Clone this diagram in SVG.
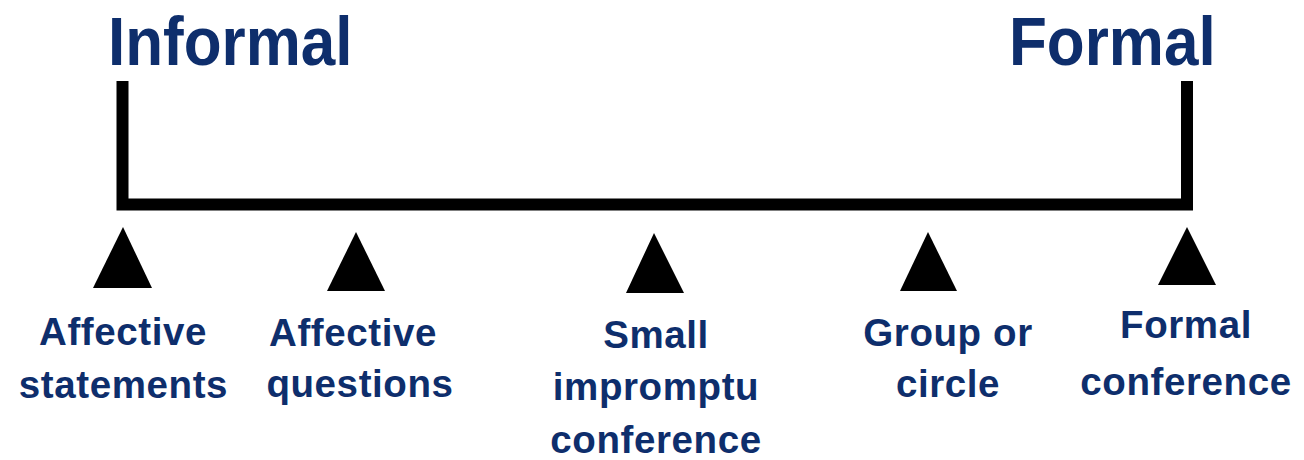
<svg xmlns="http://www.w3.org/2000/svg" width="1304" height="460" viewBox="0 0 1304 460">
<style>
.title{font-family:"Liberation Sans",Arial,sans-serif;font-weight:bold;font-size:62px;fill:#0e2e6c}
.lbl{font-family:"Liberation Sans",Arial,sans-serif;font-weight:bold;font-size:38.5px;fill:#0e2e6c;text-anchor:middle;letter-spacing:0.6px}
.tri{fill:#000}
</style>
<rect width="1304" height="460" fill="#fff"/>
<g id="title-informal"><text class="title" transform="translate(108,65) scale(1,1.1)">Informal</text></g>
<g id="title-formal"><text class="title" transform="translate(1009,65) scale(1,1.1)">Formal</text></g>
<g id="connectors">
<polyline points="122.5,81 122.5,204.5 1187,204.5 1187,81" fill="none" stroke="#000" stroke-width="12" stroke-linejoin="miter"/>
</g>
<g id="n1">
<polygon class="tri" points="123,227 152,288 93,288"/>
<text class="lbl" x="123" y="345">Affective</text>
<text class="lbl" x="123.5" y="398">statements</text>
</g>
<g id="n2">
<polygon class="tri" points="356,232 385,291 327,291"/>
<text class="lbl" x="353" y="346">Affective</text>
<text class="lbl" x="360" y="397">questions</text>
</g>
<g id="n3">
<polygon class="tri" points="654,233 684,293 626,293"/>
<text class="lbl" x="656" y="348">Small</text>
<text class="lbl" x="656" y="400">impromptu</text>
<text class="lbl" x="656" y="453">conference</text>
</g>
<g id="n4">
<polygon class="tri" points="928,232 957,291 900,291"/>
<text class="lbl" x="948" y="346">Group or</text>
<text class="lbl" x="948" y="397">circle</text>
</g>
<g id="n5">
<polygon class="tri" points="1187,227 1216,285 1158,285"/>
<text class="lbl" x="1186" y="338">Formal</text>
<text class="lbl" x="1186" y="395">conference</text>
</g>
</svg>
